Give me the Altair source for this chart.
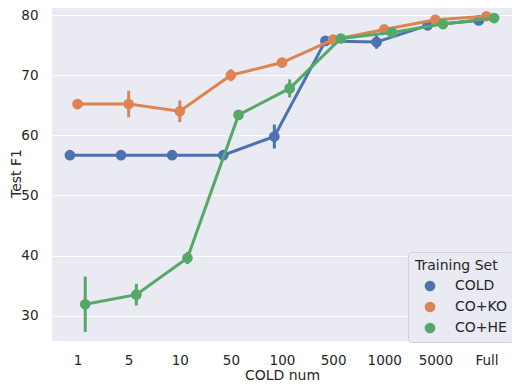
import json
import altair as alt
import pandas as pd

cats = ["1", "5", "10", "50", "100", "500", "1000", "5000", "Full"]
series = ["COLD", "CO+KO", "CO+HE"]
colors = ["#4C72B0", "#DD8452", "#55A868"]

cold = [56.7, 56.7, 56.7, 56.7, 59.8, 75.7, 75.5, 78.3, 79.1]
cold_err = [0.0, 0.0, 0.0, 0.0, 2.0, 0.3, 1.1, 0.5, 0.5]
coko = [65.2, 65.2, 64.0, 70.0, 72.1, 75.9, 77.6, 79.2, 79.8]
coko_err = [0.3, 2.2, 1.8, 1.0, 0.5, 0.3, 0.5, 0.4, 0.3]
cohe = [31.9, 33.5, 39.6, 63.4, 67.8, 76.1, 77.1, 78.5, 79.5]
cohe_err = [4.6, 1.8, 1.0, 0.8, 1.5, 0.5, 0.5, 0.4, 0.3]

rows = []
for s, vals, errs in zip(series, [cold, coko, cohe], [cold_err, coko_err, cohe_err]):
    for i, (c, v, e) in enumerate(zip(cats, vals, errs)):
        rows.append({"series": s, "cat": c, "idx": i, "value": v, "err": e})
df = pd.DataFrame(rows)

FONT = "DejaVu Sans"
TXT = "#262626"

base = alt.Chart(df).transform_calculate(
    pos="datum.idx + (datum.series == 'COLD' ? -0.15 : (datum.series == 'CO+KO' ? 0 : 0.15))",
    lo="datum.value - datum.err",
    hi="datum.value + datum.err",
)

xenc = alt.X(
    "pos:Q",
    scale=alt.Scale(domain=[-0.5, 8.5], nice=False, zero=False),
    axis=alt.Axis(
        values=list(range(len(cats))),
        labelExpr=json.dumps(cats) + "[datum.value]",
        grid=False,
        title="COLD num",
        labelPadding=12,
        titlePadding=2,
    ),
)
yscale = alt.Scale(domain=[25.8, 83.0], nice=False, zero=False)
yaxis = alt.Axis(
    values=[30, 40, 50, 60, 70, 80],
    title="Test F1",
    labelPadding=14,
    titleX=-32,
    titleY=176,
    titleBaseline="alphabetic",
)

color_legend = alt.Color(
    "series:N",
    scale=alt.Scale(domain=series, range=colors),
    sort=series,
    legend=alt.Legend(
        title="Training Set",
        orient="none",
        legendX=356,
        legendY=255,
        padding=7,
        fillColor="#EAEAF2",
        strokeColor="#D0D0D6",
        cornerRadius=3,
        symbolType="circle",
        symbolSize=115,
        symbolOffset=8,
        symbolStrokeWidth=0,
        symbolOpacity=1,
        labelOffset=18,
        rowPadding=7,
        titlePadding=6,
        titleFontSize=14,
        titleFontWeight="normal",
        titleFont=FONT,
        titleColor=TXT,
        labelFontSize=14,
        labelFont=FONT,
        labelColor=TXT,
    ),
)

layers = []
for s, col in zip(series, colors):
    b = base.transform_filter(alt.datum.series == s)
    layers.append(
        b.mark_rule(strokeWidth=3, color=col).encode(
            x=xenc,
            y=alt.Y("lo:Q", scale=yscale, axis=yaxis, title="Test F1"),
            y2="hi:Q",
        )
    )
    layers.append(
        b.mark_line(strokeWidth=3, color=col).encode(
            x=xenc,
            y=alt.Y("value:Q", scale=yscale, axis=yaxis, title="Test F1"),
        )
    )
    layers.append(
        b.mark_circle(size=115, opacity=1).encode(
            x=xenc,
            y=alt.Y("value:Q", scale=yscale, axis=yaxis, title="Test F1"),
            color=color_legend,
        )
    )

chart = (
    alt.layer(*layers)
    .properties(
        width=460,
        height=344,
        autosize=alt.AutoSizeParams(type="none"),
        padding={"left": 44, "top": -11, "right": 0, "bottom": 43},
    )
    .configure_view(fill="#EAEAF2", strokeWidth=0)
    .configure_axis(
        domain=False,
        ticks=False,
        labelFont=FONT,
        titleFont=FONT,
        labelFontSize=13.5,
        titleFontSize=14,
        titleFontWeight="normal",
        labelColor=TXT,
        titleColor=TXT,
        gridColor="#FFFFFF",
        gridWidth=1.2,
    )
)

chart.save("out.html", embed_options={"renderer": "svg", "actions": False})
